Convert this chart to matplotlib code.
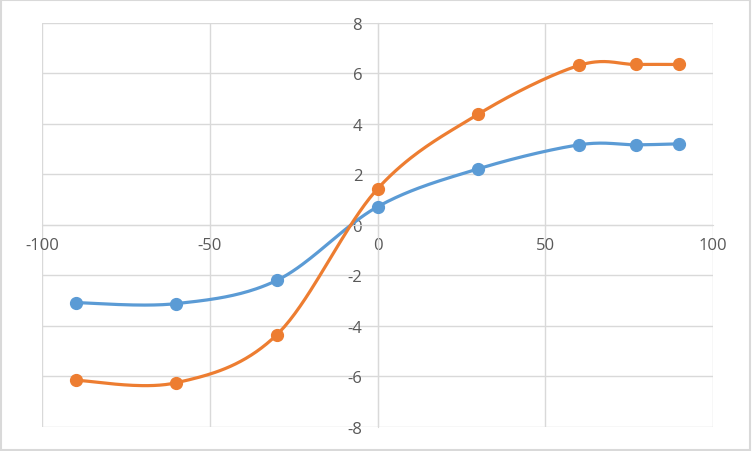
import numpy as np
import matplotlib
matplotlib.use("Agg")
import matplotlib.pyplot as plt
from matplotlib.patches import Rectangle

# data
x_vals = [-90, -60, -30, 0, 30, 60, 77, 90]
blue_y = [-3.08, -3.12, -2.2, 0.71, 2.21, 3.16, 3.16, 3.2]
orange_y = [-6.15, -6.25, -4.35, 1.42, 4.37, 6.3, 6.34, 6.34]
x_ticks = [-100, -50, 0, 50, 100]
y_ticks = [-8, -6, -4, -2, 0, 2, 4, 6, 8]

BLUE = "#5B9BD5"
ORANGE = "#ED7D31"


def smooth(xs, ys, n=40):
    # Excel-like smoothed line: bezier segments with catmull-rom style handles
    p = np.column_stack([xs, ys]).astype(float)
    p = np.vstack([p[0], p, p[-1]])
    out = []
    t = np.linspace(0, 1, n)[:, None]
    for i in range(1, len(p) - 2):
        p0, p1, p2, p3 = p[i - 1], p[i], p[i + 1], p[i + 2]
        c1 = p1 + (p2 - p0) / 6
        c2 = p2 - (p3 - p1) / 6
        seg = ((1 - t) ** 3) * p1 + 3 * ((1 - t) ** 2) * t * c1 + 3 * (1 - t) * t ** 2 * c2 + t ** 3 * p2
        out.append(seg)
    out = np.vstack(out)
    return out[:, 0], out[:, 1]


plt.rcParams['font.family'] = ['Open Sans', 'DejaVu Sans']
plt.rcParams['axes.unicode_minus'] = False

fig = plt.figure(figsize=(7.52, 4.52), dpi=100)
ax = fig.add_axes([42 / 752, (452 - 428) / 452, (713 - 42) / 752, (428 - 23.5) / 452])

for ys, col in [(blue_y, BLUE), (orange_y, ORANGE)]:
    sx, sy = smooth(x_vals, ys)
    ax.plot(sx, sy, color=col, lw=2.3, solid_capstyle='round', zorder=3)
    ax.plot(x_vals, ys, 'o', color=col, ms=8.5, zorder=4)

ax.set_xlim(-100, 100)
ax.set_ylim(-8, 8)
ax.set_xticks(x_ticks)
ax.set_yticks(y_ticks)
ax.grid(True, color="#d9d9d9", lw=1)
ax.set_axisbelow(True)

for side in ['top', 'right']:
    ax.spines[side].set_visible(False)
ax.spines['left'].set_position(('data', 0))
ax.spines['bottom'].set_position(('data', 0))
ax.spines['left'].set_color("#d9d9d9")
ax.spines['bottom'].set_color("#d9d9d9")
ax.tick_params(axis='both', length=0, labelsize=12, labelcolor="#595959")
ax.tick_params(axis='x', pad=9)
ax.tick_params(axis='y', pad=11)

# chart area border
fig.patches.append(Rectangle((0.001, 0.002), 0.997, 0.995, transform=fig.transFigure,
                             fill=False, edgecolor="#d9d9d9", lw=1.5))

fig.savefig("out.png", dpi=100)
